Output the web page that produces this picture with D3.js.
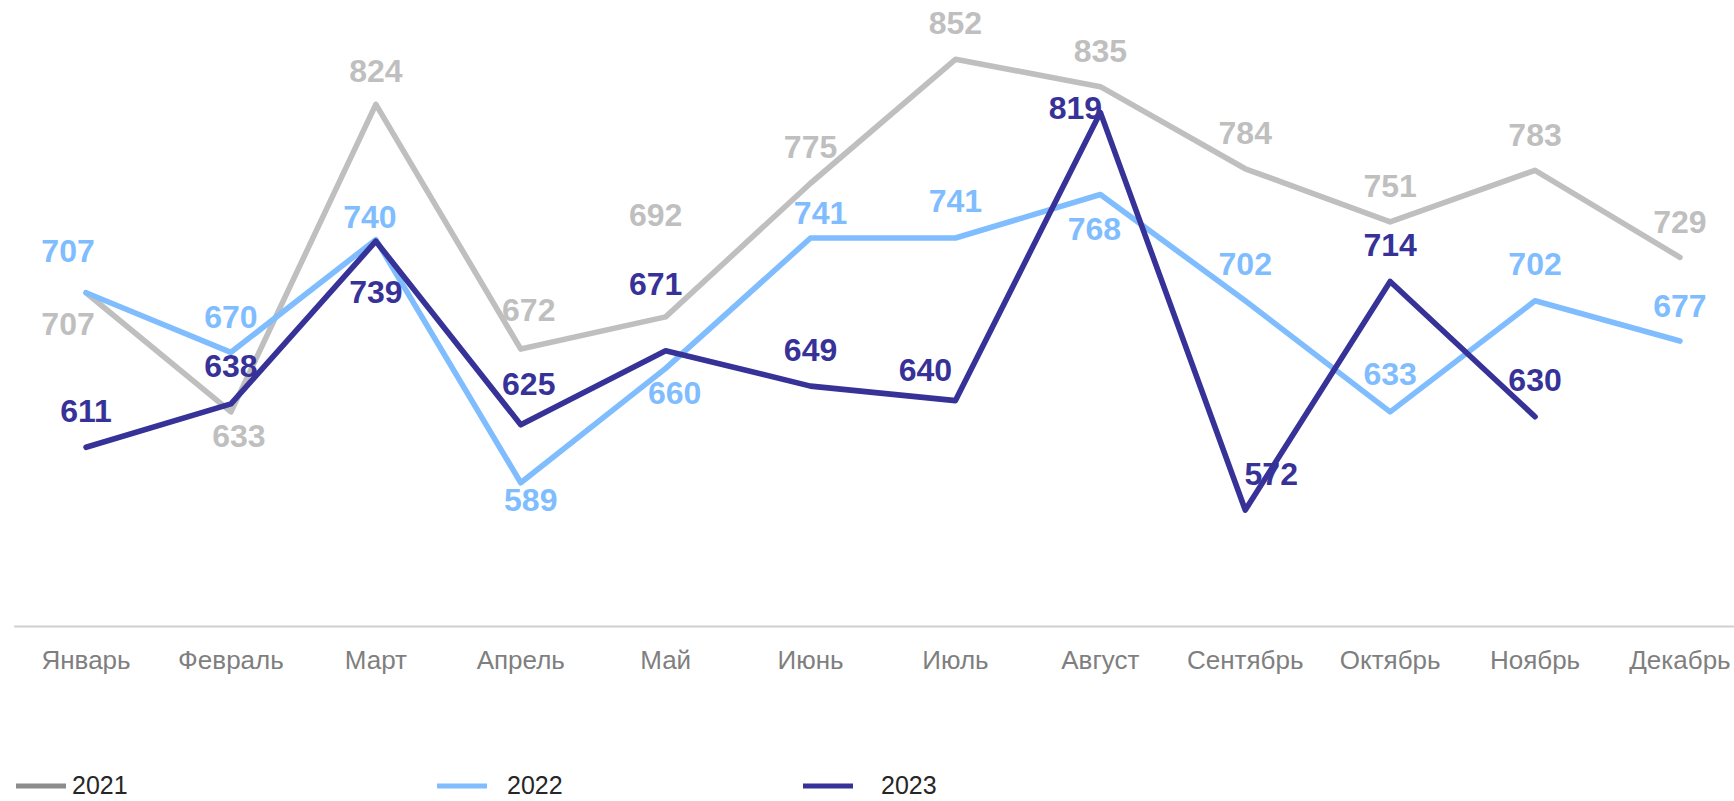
<!DOCTYPE html>
<html><head><meta charset="utf-8">
<script src="https://cdn.jsdelivr.net/npm/d3@7"></script>
<style>html,body{margin:0;padding:0;background:#fff;overflow:hidden}</style>
</head><body>
<svg id="chart" width="1734" height="801"></svg>
<script>
const months = ["Январь","Февраль","Март","Апрель","Май","Июнь","Июль","Август","Сентябрь","Октябрь","Ноябрь","Декабрь"];
const years = ["2021","2022","2023"];
const v2021 = [707,633,824,672,692,775,852,835,784,751,783,729];
const v2022 = [707,670,740,589,660,741,741,768,702,633,702,677];
const v2023 = [611,638,739,625,671,649,640,819,572,714,630,null];

// label layout offsets (dx, dy of baseline relative to point) — layout only
const off2021 = [[-18,42],[8,35],[0,-22],[8,-28],[-10,-91],[0,-25],[0,-25],[0,-25],[0,-25],[0,-25],[0,-24],[0,-24]];
const off2022 = [[-18,-31],[0,-24],[-6,-12],[10,28],[9,36],[10,-14],[0,-26],[-6,45],[0,-26],[0,-27],[0,-26],[0,-24]];
const off2023 = [[0,-25],[0,-27],[0,62],[8,-30],[-10,-56],[0,-25],[-30,-20],[-25,7],[26,-25],[0,-25],[0,-26],[0,0]];

const colors = {"2021":"#BFBFBF","2022":"#80BDFF","2023":"#373298"};
const legendSwatch = {"2021":"#8C8C8C","2022":"#80BDFF","2023":"#373298"};

const svg = d3.select("#chart");
const x = d3.scaleBand().domain(months).range([13.6, 1752.4]);
const y = d3.scaleLinear().domain([500, 900]).range([626, 626 - 400*1.61]);
const cx = m => x(m) + x.bandwidth()/2;

// axis
const axis = d3.axisBottom(x).tickSize(0).tickPadding(0);
const ag = svg.append("g").attr("transform","translate(0,626)").call(axis);
ag.select(".domain").attr("stroke","#D0D0D0").attr("stroke-width",2);
ag.selectAll(".tick text")
  .attr("y",43).attr("dy",0)
  .attr("fill","#7F7F7F")
  .style("font-family","'Liberation Sans', Arial, sans-serif")
  .style("font-size","26px");

const series = [
  {name:"2021", values:v2021, off:off2021},
  {name:"2022", values:v2022, off:off2022},
  {name:"2023", values:v2023, off:off2023}
];

const line = d3.line()
  .defined(d => d.v !== null)
  .x(d => cx(d.m)).y(d => y(d.v));

series.forEach(s => {
  const pts = months.map((m,i)=>({m, v:s.values[i]}));
  svg.append("path").datum(pts)
    .attr("d", line)
    .attr("fill","none")
    .attr("stroke", colors[s.name])
    .attr("stroke-width",5.6)
    .attr("stroke-linejoin","round")
    .attr("stroke-linecap","round");
});

series.forEach(s => {
  const pts = months.map((m,i)=>({m, v:s.values[i], o:s.off[i]})).filter(d=>d.v!==null);
  svg.append("g").selectAll("text").data(pts).join("text")
    .attr("x", d => cx(d.m) + d.o[0])
    .attr("y", d => y(d.v) + d.o[1])
    .attr("text-anchor","middle")
    .attr("fill", colors[s.name])
    .style("font-family","'Liberation Sans', Arial, sans-serif")
    .style("font-weight","bold")
    .style("font-size","32px")
    .text(d => d.v);
});

// legend
const legendX = {"2021":16,"2022":437,"2023":803};
const legendTextDx = {"2021":56,"2022":70,"2023":78};
const lg = svg.append("g");
years.forEach(yr => {
  const g = lg.append("g").attr("transform",`translate(${legendX[yr]},0)`);
  g.append("line").attr("x1",0).attr("x2",50).attr("y1",786).attr("y2",786)
    .attr("stroke",legendSwatch[yr]).attr("stroke-width",5);
  g.append("text").attr("x", legendTextDx[yr]).attr("y",794)
    .attr("fill","#262626")
    .style("font-family","'Liberation Sans', Arial, sans-serif")
    .style("font-size","25px")
    .text(yr);
});
</script>
</body></html>
